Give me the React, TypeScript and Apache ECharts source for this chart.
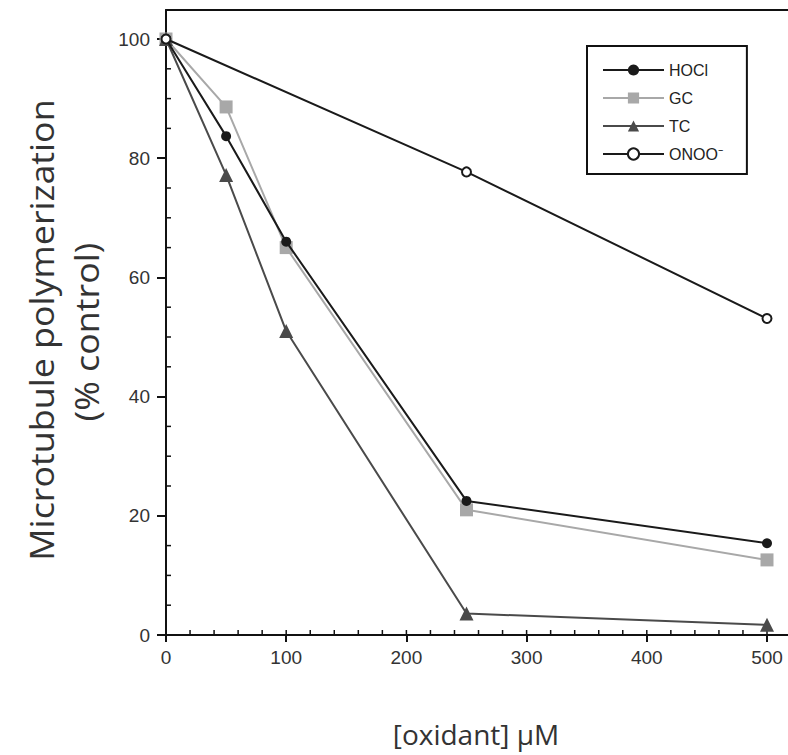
import { useEffect, useRef } from "react";
import * as echarts from "echarts";

const doses = [0, 50, 100, 250, 500];
const hoclValues = [100, 83.7, 66, 22.5, 15.4];
const gcValues = [100, 88.6, 65, 21, 12.6];
const tcValues = [100, 77.2, 51, 3.6, 1.7];
const onooDoses = [0, 250, 500];
const onooValues = [100, 77.7, 53.1];
const seriesNames = ["HOCl", "GC", "TC", "ONOO⁻"];
const xTicks = [0, 100, 200, 300, 400, 500];
const yTicks = [0, 20, 40, 60, 80, 100];
const xMinorStep = 20;
const yMinorStep = 5;
const xTitle = "[oxidant] µM";
const yTitle1 = "Microtubule polymerization";
const yTitle2 = "(% control)";

const pair = (xs: number[], ys: number[]) => xs.map((x, i) => [x, ys[i]]);

export default function App() {
  const ref = useRef<HTMLDivElement>(null);
  useEffect(() => {
    if (!ref.current) return;
    const chart = echarts.init(ref.current, null, { renderer: "svg" });
    const ink = "#111";
    const labelFont = { fontSize: 19, color: "#333", fontFamily: "Liberation Sans" };
    const xMin = xTicks[0];
    const xMax = xTicks[xTicks.length - 1];
    const xInt = xTicks[1] - xTicks[0];
    const yMin = yTicks[0];
    const yMax = yTicks[yTicks.length - 1];
    const yInt = yTicks[1] - yTicks[0];

    // inner tick positions (x: every minor step incl. majors; y: minor steps only)
    const xInner: number[][] = [];
    for (let v = xMin + xMinorStep; v <= xMax; v += xMinorStep) xInner.push([v, yMin]);
    const yInner: number[][] = [];
    for (let v = yMin + yMinorStep; v < yMax; v += yMinorStep) {
      if (v % yInt !== 0) yInner.push([xMin, v]);
    }

    const frameAxis = {
      gridIndex: 1,
      type: "value",
      min: 0,
      max: 1,
      axisLine: { show: true, onZero: false, lineStyle: { color: ink, width: 2 } },
      axisTick: { show: false },
      axisLabel: { show: false },
      splitLine: { show: false },
    };

    const tickSeries = (data: number[][], dx: number, dy: number) => ({
      type: "custom",
      xAxisIndex: 0,
      yAxisIndex: 0,
      silent: true,
      clip: false,
      z: 1,
      encode: { x: 0, y: 1 },
      data,
      renderItem: (_params: any, api: any) => {
        const p = api.coord([api.value(0), api.value(1)]);
        return {
          type: "line",
          shape: { x1: p[0], y1: p[1], x2: p[0] + dx, y2: p[1] + dy },
          style: { stroke: ink, lineWidth: 1.5 },
        };
      },
    });

    chart.setOption({
      animation: false,
      backgroundColor: "#fff",
      grid: [
        { left: 166, top: 39, width: 601, height: 596 },
        { left: 166, top: 10, width: 625, height: 625 },
      ],
      xAxis: [
        {
          gridIndex: 0,
          type: "value",
          min: xMin,
          max: xMax,
          interval: xInt,
          position: "bottom",
          axisLine: { show: false, onZero: false },
          axisTick: { show: true, length: 7, lineStyle: { color: ink, width: 2 } },
          axisLabel: { margin: 13, ...labelFont },
          splitLine: { show: false },
        },
        { ...frameAxis, position: "bottom" },
        { ...frameAxis, position: "top" },
      ],
      yAxis: [
        {
          gridIndex: 0,
          type: "value",
          min: yMin,
          max: yMax,
          interval: yInt,
          position: "left",
          axisLine: { show: false, onZero: false },
          axisTick: { show: true, length: 9, lineStyle: { color: ink, width: 2 } },
          axisLabel: { margin: 16, ...labelFont },
          splitLine: { show: false },
        },
        { ...frameAxis, position: "left" },
      ],
      legend: {
        data: seriesNames,
        orient: "vertical",
        left: 587,
        top: 46,
        padding: [16, 24, 12, 15],
        itemWidth: 61,
        itemHeight: 14,
        itemGap: 12,
        borderColor: ink,
        borderWidth: 2,
        textStyle: { fontSize: 16, color: "#222", fontFamily: "Liberation Sans" },
      },
      graphic: [
        {
          type: "text",
          x: 42,
          y: 330,
          rotation: Math.PI / 2,
          scaleX: 1.12,
          style: {
            text: yTitle1,
            font: "32px 'Open Sans'",
            fill: "#333",
            align: "center",
            verticalAlign: "middle",
          },
        },
        {
          type: "text",
          x: 87,
          y: 332,
          rotation: Math.PI / 2,
          scaleX: 1.12,
          style: {
            text: yTitle2,
            font: "32px 'Open Sans'",
            fill: "#333",
            align: "center",
            verticalAlign: "middle",
          },
        },
        {
          type: "text",
          x: 476,
          y: 734,
          style: {
            text: xTitle,
            font: "28px 'Open Sans'",
            fill: "#333",
            align: "center",
            verticalAlign: "middle",
          },
        },
      ],
      series: [
        tickSeries(xInner, 0, -5),
        tickSeries(yInner, 5, 0),
        {
          name: seriesNames[0],
          type: "line",
          data: pair(doses, hoclValues),
          symbol: "circle",
          symbolSize: 10,
          lineStyle: { color: "#1a1a1a", width: 2 },
          itemStyle: { color: "#1a1a1a" },
          z: 4,
        },
        {
          name: seriesNames[1],
          type: "line",
          data: pair(doses, gcValues),
          symbol: "rect",
          symbolSize: 13,
          lineStyle: { color: "#a8a8a8", width: 2 },
          itemStyle: { color: "#a8a8a8" },
          z: 3,
        },
        {
          name: seriesNames[2],
          type: "line",
          data: pair(doses, tcValues),
          symbol: "triangle",
          symbolSize: 14,
          lineStyle: { color: "#4a4a4a", width: 2 },
          itemStyle: { color: "#4a4a4a" },
          z: 3,
        },
        {
          name: seriesNames[3],
          type: "line",
          data: pair(onooDoses, onooValues),
          symbol: "circle",
          symbolSize: 9,
          showAllSymbol: true,
          lineStyle: { color: "#1a1a1a", width: 2 },
          itemStyle: { color: "#fff", borderColor: "#1a1a1a", borderWidth: 2 },
          z: 5,
        },
      ],
    });
    return () => chart.dispose();
  }, []);
  return (
    <div
      ref={ref}
      style={{ position: "fixed", left: 0, top: 0, width: 788, height: 755, background: "#fff" }}
    />
  );
}
